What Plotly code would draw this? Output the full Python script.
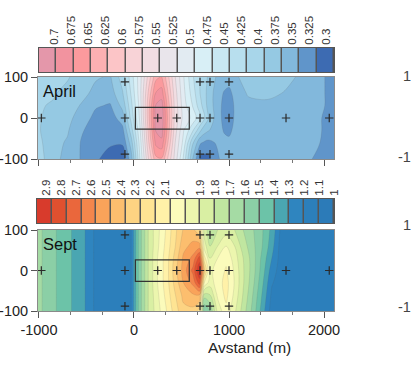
import plotly.graph_objects as go

W, H = 419, 380
FONT = "Arial, Liberation Sans, sans-serif"

# ---------------- data ----------------
grid_y = [100, 60, 30, 0, -30, -60, -100]

april_x = [-1010, -850, -700, -550, -400, -250, -120, -30, 60, 150, 230, 290, 350, 430,
           520, 620, 700, 780, 870, 950, 1000, 1060, 1200, 1400, 1600, 1800, 1950, 2105]
# one list per x column, values for grid_y (top -> bottom)
april_cols = [
    [0.40, 0.395, 0.39, 0.39, 0.39, 0.395, 0.40],
    [0.40, 0.39, 0.385, 0.38, 0.375, 0.37, 0.37],
    [0.39, 0.38, 0.375, 0.37, 0.365, 0.36, 0.355],
    [0.375, 0.37, 0.36, 0.35, 0.34, 0.335, 0.335],
    [0.365, 0.355, 0.34, 0.33, 0.325, 0.32, 0.315],
    [0.36, 0.35, 0.335, 0.325, 0.32, 0.315, 0.305],
    [0.40, 0.385, 0.37, 0.35, 0.33, 0.315, 0.30],
    [0.45, 0.44, 0.43, 0.42, 0.40, 0.375, 0.35],
    [0.50, 0.50, 0.495, 0.49, 0.48, 0.47, 0.46],
    [0.57, 0.59, 0.60, 0.60, 0.59, 0.58, 0.56],
    [0.63, 0.665, 0.69, 0.695, 0.69, 0.67, 0.63],
    [0.64, 0.675, 0.70, 0.705, 0.70, 0.68, 0.635],
    [0.60, 0.62, 0.635, 0.64, 0.635, 0.62, 0.59],
    [0.54, 0.55, 0.555, 0.555, 0.55, 0.54, 0.53],
    [0.49, 0.495, 0.50, 0.505, 0.49, 0.48, 0.46],
    [0.44, 0.45, 0.46, 0.48, 0.44, 0.39, 0.36],
    [0.41, 0.41, 0.42, 0.44, 0.39, 0.34, 0.305],
    [0.385, 0.38, 0.38, 0.39, 0.365, 0.33, 0.305],
    [0.36, 0.35, 0.35, 0.35, 0.35, 0.34, 0.33],
    [0.35, 0.335, 0.33, 0.33, 0.335, 0.345, 0.35],
    [0.35, 0.33, 0.325, 0.325, 0.33, 0.345, 0.35],
    [0.355, 0.345, 0.34, 0.34, 0.345, 0.35, 0.355],
    [0.38, 0.365, 0.355, 0.35, 0.35, 0.35, 0.35],
    [0.385, 0.37, 0.355, 0.35, 0.35, 0.35, 0.35],
    [0.37, 0.36, 0.355, 0.35, 0.35, 0.35, 0.35],
    [0.355, 0.35, 0.35, 0.35, 0.345, 0.345, 0.34],
    [0.345, 0.345, 0.345, 0.34, 0.34, 0.338, 0.335],
    [0.325, 0.325, 0.325, 0.325, 0.325, 0.325, 0.325],
]

sept_x = [-1010, -850, -700, -600, -500, -400, -100, -30, 20, 60, 150, 230, 290, 350, 430,
          520, 620, 690, 740, 800, 880, 970, 1060, 1150, 1250, 1350, 1450, 1550, 2105]
sept_cols = [
    [1.58] * 7,
    [1.47] * 7,
    [1.38] * 7,
    [1.31] * 7,
    [1.24] * 7,
    [1.12] * 7,
    [1.10] * 7,
    [1.15] * 7,
    [1.35] * 7,
    [1.50] * 7,
    [1.75] * 7,
    [1.90, 1.90, 1.92, 1.92, 1.92, 1.90, 1.88],
    [1.98, 2.00, 2.02, 2.02, 2.02, 2.00, 1.97],
    [2.08, 2.10, 2.12, 2.12, 2.12, 2.10, 2.06],
    [2.22, 2.24, 2.28, 2.30, 2.28, 2.24, 2.20],
    [2.36, 2.42, 2.47, 2.49, 2.45, 2.38, 2.32],
    [2.38, 2.48, 2.58, 2.68, 2.58, 2.44, 2.32],
    [2.25, 2.50, 2.80, 2.95, 2.80, 2.45, 2.20],
    [1.80, 1.90, 2.10, 2.30, 2.05, 1.70, 1.45],
    [1.70, 1.75, 1.85, 1.92, 1.90, 1.75, 1.55],
    [1.75, 1.85, 1.95, 2.00, 2.00, 1.97, 1.88],
    [1.80, 1.95, 2.03, 2.06, 2.09, 2.08, 2.02],
    [1.75, 1.85, 1.90, 1.93, 1.94, 1.92, 1.87],
    [1.65, 1.70, 1.75, 1.76, 1.76, 1.74, 1.70],
    [1.56, 1.58, 1.60, 1.60, 1.58, 1.55, 1.52],
    [1.46, 1.45, 1.42, 1.40, 1.37, 1.34, 1.30],
    [1.32, 1.29, 1.25, 1.20, 1.16, 1.13, 1.10],
    [1.12, 1.10, 1.10, 1.10, 1.10, 1.10, 1.10],
    [1.10] * 7,
]

station_x = [-975, -95, -95, -95, 250, 450, 695, 695, 695, 800, 800, 800, 1000, 1000, 1000, 1600, 2055]
station_y = [0, 88, 0, -88, 0, 0, 88, 0, -88, 88, 0, -88, 88, 0, -88, 0, 0]

box_x = [15, 582]
box_y = [-27, 26]

x_ticks = [-1000, 0, 1000, 2000]
y_ticks = [-100, 0, 100]

april_levels = [0.7, 0.675, 0.65, 0.625, 0.6, 0.575, 0.55, 0.525, 0.5,
                0.475, 0.45, 0.425, 0.4, 0.375, 0.35, 0.325, 0.3]
april_colors = ["#e497aa", "#f2939f", "#fb9a9d", "#fcb0b2", "#fcc5c7", "#f8d3d7",
                "#f1dde2", "#e9e5eb", "#e2ebf2", "#d8eff6", "#c8e7f2", "#b8dfee",
                "#a8d6ea", "#95c9e3", "#82b8dc", "#6095ca", "#3d6bb2"]

sept_levels = [2.9, 2.8, 2.7, 2.6, 2.5, 2.4, 2.3, 2.2, 2.1, 2.0,
               1.9, 1.8, 1.7, 1.6, 1.5, 1.4, 1.3, 1.2, 1.1, 1.0]
sept_colors = ["#d83b2c", "#e0502f", "#ea673c", "#f3864c", "#f9a35a", "#fcbe6e",
               "#fdd382", "#fee493", "#fff1a8", "#fbfbbb", "#ecf6ae", "#d9efa3",
               "#c0e6a0", "#a5dba4", "#8bcfa6", "#6cc3a8", "#4aa6b2", "#2f85bf",
               "#2c7fbb", "#2c7bb8"]


# ---------------- helpers ----------------
def transpose(cols):
    return [list(r) for r in zip(*cols)]


def scale_of(levels, colors):
    pairs = sorted(zip(levels, colors))
    n = len(pairs)
    return [[i / (n - 1), c] for i, (_, c) in enumerate(pairs)]


def contour_spec(levels):
    lv = sorted(levels)
    step = round(lv[1] - lv[0], 6)
    return dict(start=lv[0] + step / 2, end=lv[-1] - step / 2, size=step,
                coloring="fill", showlines=True)


def fx(p):
    return p / W


def fy(p):
    return 1 - p / H


april_scale = scale_of(april_levels, april_colors)
sept_scale = scale_of(sept_levels, sept_colors)

fig = go.Figure()

fig.add_trace(go.Contour(
    x=april_x, y=grid_y, z=transpose(april_cols),
    colorscale=april_scale, autocontour=False, contours=contour_spec(april_levels),
    line=dict(width=0.5, color="rgba(90,90,90,0.3)"), showscale=False,
    hoverinfo="skip", xaxis="x", yaxis="y"))

fig.add_trace(go.Contour(
    x=sept_x, y=grid_y, z=transpose(sept_cols),
    colorscale=sept_scale, autocontour=False, contours=contour_spec(sept_levels),
    line=dict(width=0.5, color="rgba(90,90,90,0.25)"), showscale=False,
    hoverinfo="skip", xaxis="x2", yaxis="y2"))

for xa, ya in (("x", "y"), ("x2", "y2")):
    fig.add_trace(go.Scatter(
        x=station_x, y=station_y, mode="markers",
        marker=dict(symbol="cross-thin", size=6, line=dict(width=1.2, color="#2a2a2a")),
        hoverinfo="skip", showlegend=False, xaxis=xa, yaxis=ya))

# colour keys
fig.add_trace(go.Heatmap(
    z=[april_levels], x=list(range(len(april_levels))), y=[0],
    colorscale=april_scale, zmin=min(april_levels), zmax=max(april_levels),
    xgap=1.5, showscale=False, hoverinfo="skip", xaxis="x3", yaxis="y3"))
fig.add_trace(go.Heatmap(
    z=[sept_levels], x=list(range(len(sept_levels))), y=[0],
    colorscale=sept_scale, zmin=min(sept_levels), zmax=max(sept_levels),
    xgap=1.5, showscale=False, hoverinfo="skip", xaxis="x4", yaxis="y4"))

tick_font = dict(family=FONT, size=14.5, color="#222")


def main_x(dom_anchor, labels):
    return dict(domain=[fx(38), fx(334)], anchor=dom_anchor, range=[-1010, 2105],
                automargin=False,
                showline=True, linecolor="#8a8a8a", linewidth=1, mirror=True,
                ticks="outside", tickvals=x_ticks, ticktext=[str(v) for v in x_ticks],
                ticklen=6, tickcolor="#555",
                showticklabels=labels, tickfont=tick_font,
                minor=dict(tick0=-1000, dtick=1000 / 3, ticks="outside", ticklen=3,
                           tickcolor="#777"),
                showgrid=False, zeroline=False)


def main_y(dom, anchor):
    return dict(domain=dom, anchor=anchor, range=[-100, 100], tickvals=y_ticks,
                ticktext=[str(v) for v in y_ticks],
                automargin=False,
                ticks="outside", ticklen=6, tickcolor="#555", showline=True,
                linecolor="#8a8a8a", mirror=True, tickfont=tick_font,
                showgrid=False, zeroline=False)


def key_x(anchor, dom, levels, tv):
    return dict(domain=dom, anchor=anchor, range=[-0.5, len(levels) - 0.5], side="top",
                automargin=False,
                tickvals=tv, ticktext=[f"{v:g}" for v in levels], tickangle=-90,
                ticks="", showline=True, mirror=True, linecolor="#555", linewidth=1,
                tickfont=dict(family=FONT, size=11.5, color="#333"),
                showgrid=False, zeroline=False)


def key_y(anchor, dom):
    return dict(domain=dom, anchor=anchor, range=[-0.5, 0.5], showticklabels=False,
                automargin=False,
                ticks="", showline=True, mirror=True, linecolor="#555",
                showgrid=False, zeroline=False)


april_tv = [0.39 + i * 0.98 for i in range(len(april_levels))]
sept_tv = [i + (0.15 if i < 10 else 0.5) for i in range(len(sept_levels))]

side_font = dict(family=FONT, size=14.5, color="#444")

fig.update_layout(
    width=W, height=H, autosize=False,
    margin=dict(l=0, r=0, t=0, b=0, pad=0),
    paper_bgcolor="white", plot_bgcolor="#555555",
    showlegend=False,
    font=dict(family=FONT, color="#222"),
    xaxis=main_x("y", False),
    yaxis=main_y([fy(159), fy(77)], "x"),
    xaxis2=main_x("y2", True),
    yaxis2=main_y([fy(311), fy(230)], "x2"),
    xaxis3=key_x("y3", [fx(39), fx(334)], april_levels, april_tv),
    yaxis3=key_y("x3", [fy(72), fy(48)]),
    xaxis4=key_x("y4", [fx(37), fx(334)], sept_levels, sept_tv),
    yaxis4=key_y("x4", [fy(223), fy(199)]),
    shapes=[
        dict(type="rect", xref="x", yref="y", x0=box_x[0], x1=box_x[1], y0=box_y[0],
             y1=box_y[1], line=dict(color="#333", width=1.2)),
        dict(type="rect", xref="x2", yref="y2", x0=box_x[0], x1=box_x[1], y0=box_y[0],
             y1=box_y[1], line=dict(color="#333", width=1.2)),
    ],
    annotations=[
        dict(text="April", xref="paper", yref="paper", x=fx(41), y=fy(80),
             xanchor="left", yanchor="top", showarrow=False,
             font=dict(family=FONT, size=16.5, color="#111")),
        dict(text="Sept", xref="paper", yref="paper", x=fx(41), y=fy(233),
             xanchor="left", yanchor="top", showarrow=False,
             font=dict(family=FONT, size=16.5, color="#111")),
        dict(text="Avstand (m)", xref="paper", yref="paper", x=fx(250), y=fy(347),
             xanchor="center", yanchor="middle", showarrow=False,
             font=dict(family=FONT, size=15.5, color="#222")),
        dict(text="1", xref="paper", yref="paper", x=fx(413), y=fy(76),
             xanchor="right", yanchor="middle", showarrow=False, font=side_font),
        dict(text="-1", xref="paper", yref="paper", x=fx(413), y=fy(157),
             xanchor="right", yanchor="middle", showarrow=False, font=side_font),
        dict(text="1", xref="paper", yref="paper", x=fx(413), y=fy(225),
             xanchor="right", yanchor="middle", showarrow=False, font=side_font),
        dict(text="-1", xref="paper", yref="paper", x=fx(413), y=fy(307),
             xanchor="right", yanchor="middle", showarrow=False, font=side_font),
    ],
)

fig.write_html(
    "out.html",
    config={"displayModeBar": False},
    post_script="document.body.style.margin='0';document.body.style.padding='0';"
                "document.documentElement.style.overflow='hidden';",
)
